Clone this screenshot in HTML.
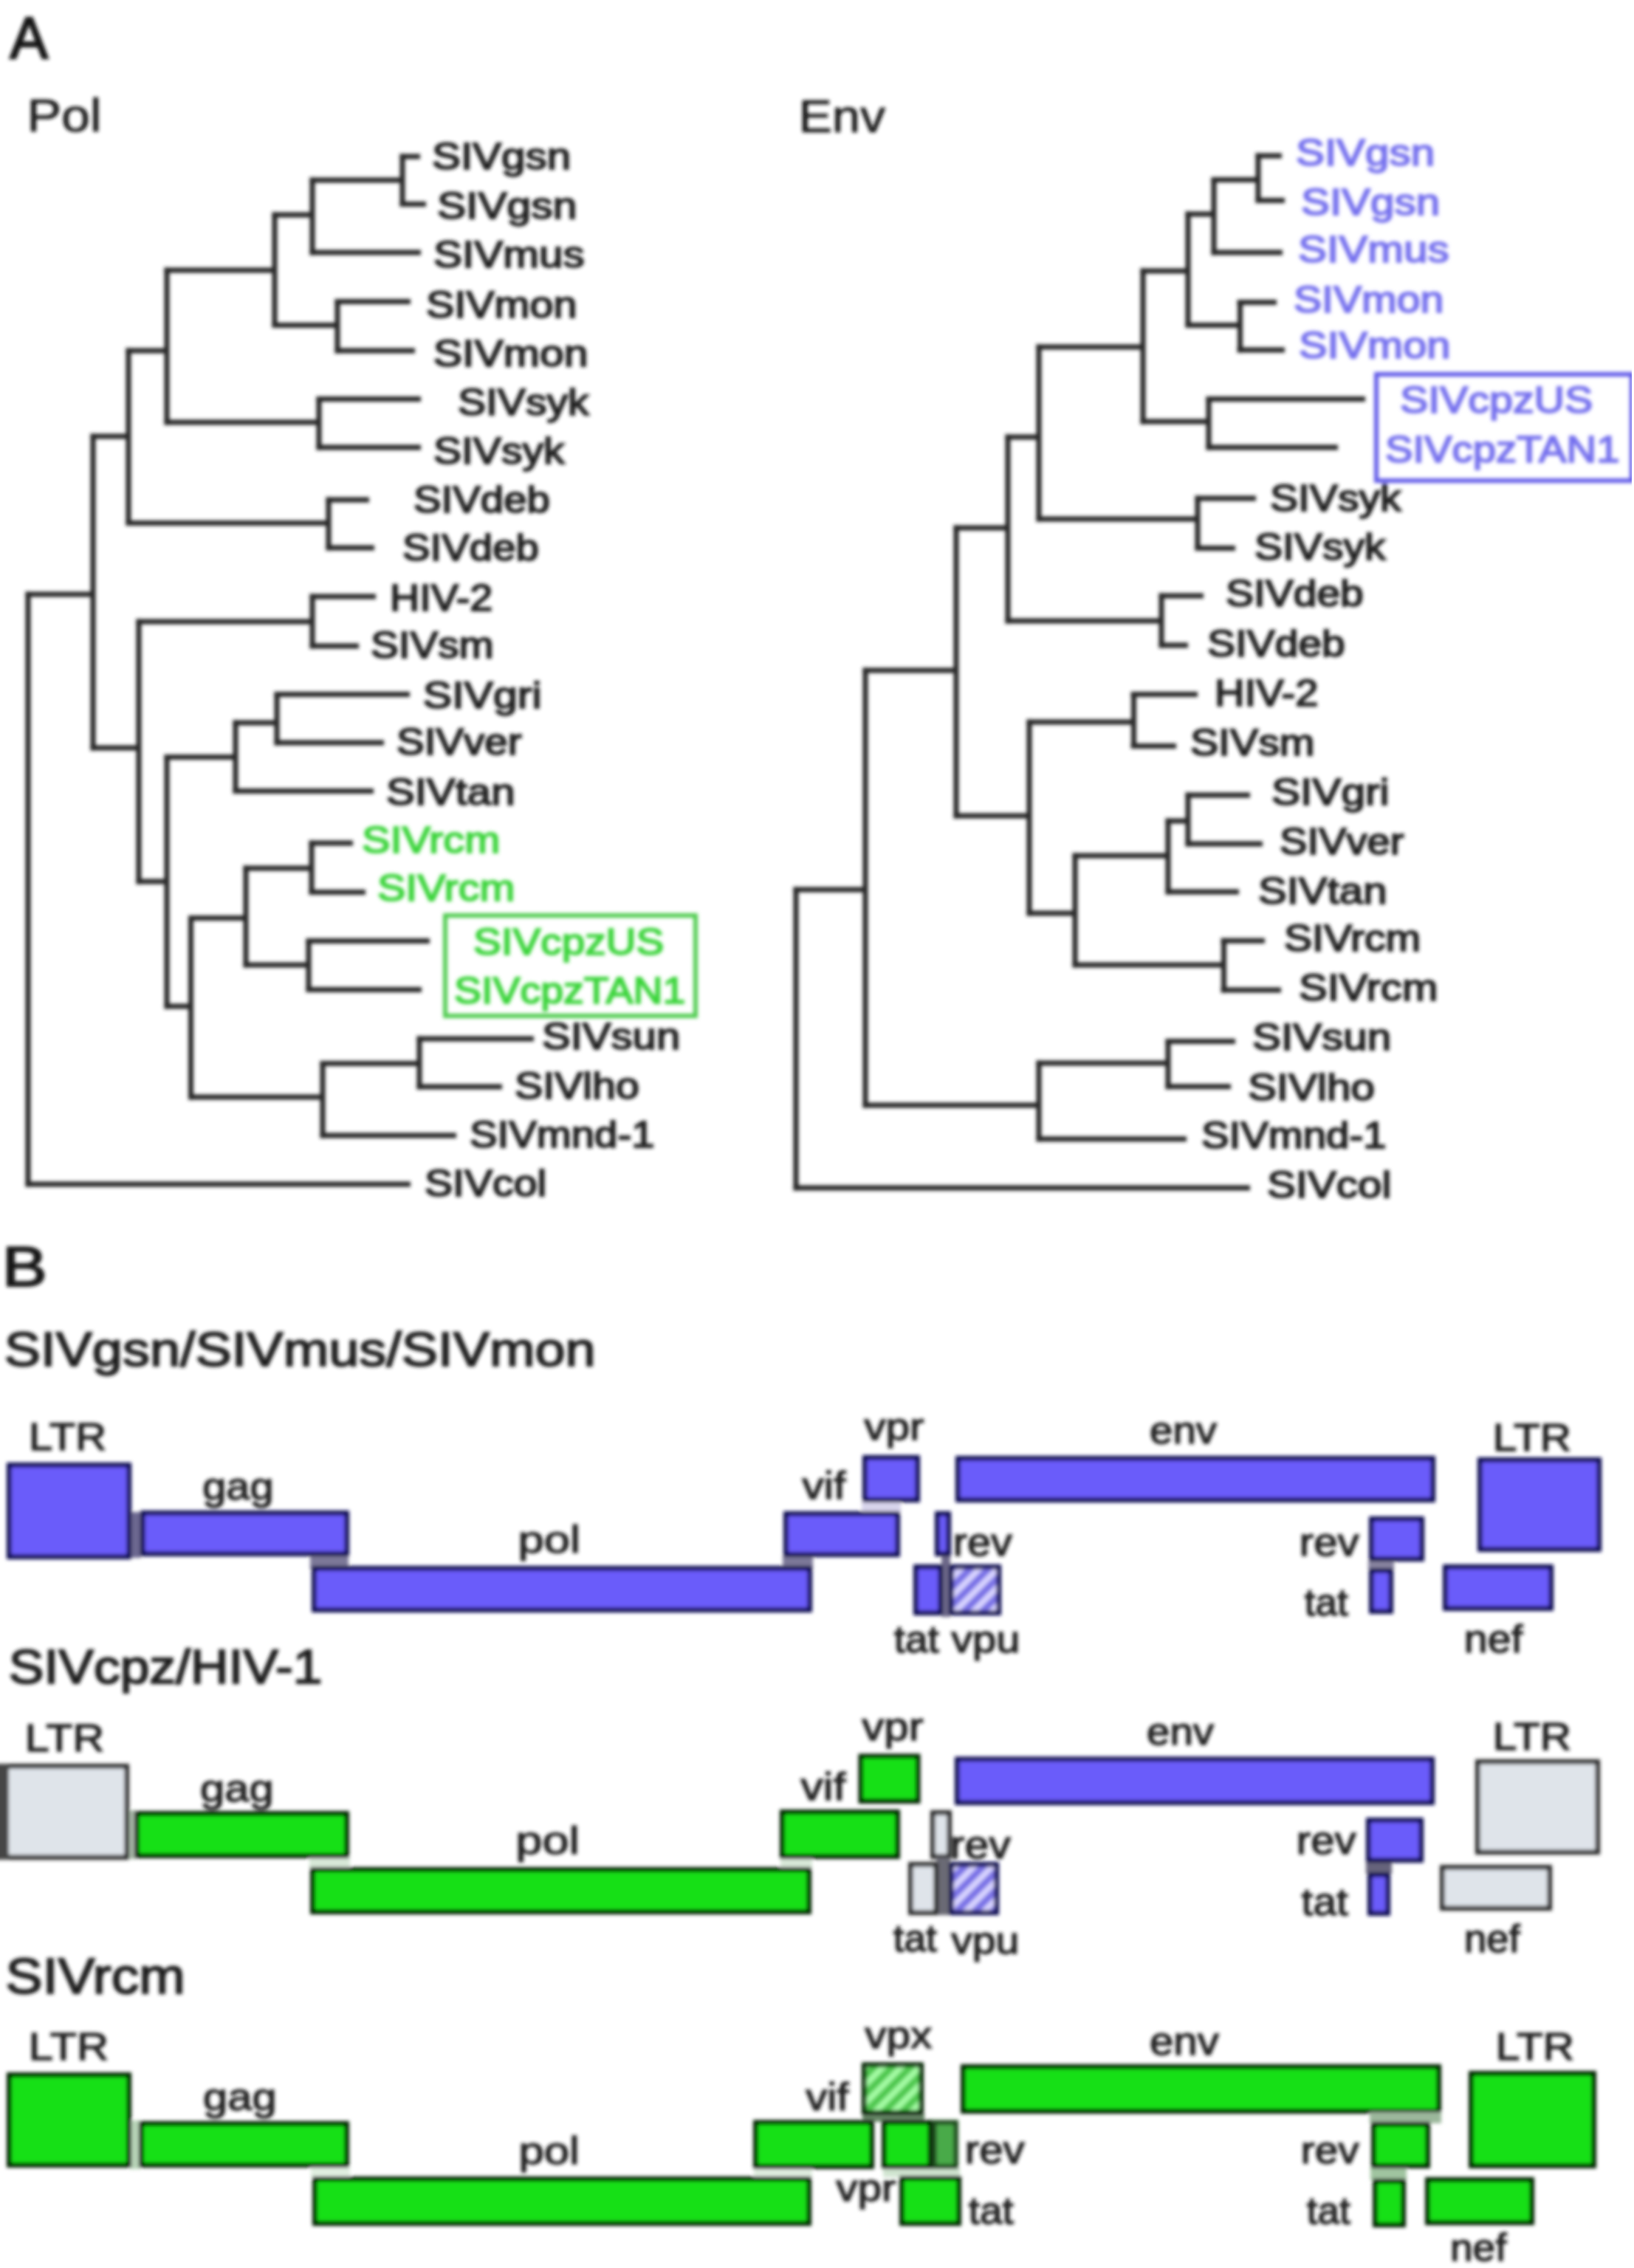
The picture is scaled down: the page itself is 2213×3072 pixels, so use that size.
<!DOCTYPE html>
<html><head><meta charset="utf-8"><style>html,body{margin:0;padding:0;background:#fff;width:2213px;height:3072px;overflow:hidden}</style></head>
<body><svg width="2213" height="3072" viewBox="0 0 2213 3072" style="display:block">
<rect width="2213" height="3072" fill="#fff"/>
<g font-family="Liberation Sans, sans-serif" filter="url(#bl)">
<filter id="bl" x="0" y="0" width="1" height="1"><feGaussianBlur stdDeviation="2.6"/></filter>
<text transform="translate(13.6,79.0) scale(0.9694,1)" font-size="79.7" font-weight="normal" fill="#151515" stroke="#151515" stroke-width="2.58">A</text>
<text transform="translate(36.4,178.0) scale(1.0977,1)" font-size="63.8" font-weight="normal" fill="#141414" stroke="#141414" stroke-width="0.73">Pol</text>
<text transform="translate(1081.5,179.0) scale(1.0710,1)" font-size="63.8" font-weight="normal" fill="#141414" stroke="#141414" stroke-width="0.75">Env</text>
<line x1="541.5" y1="212" x2="569" y2="212" stroke="#262626" stroke-width="7"/>
<text transform="translate(584.9,229.4) scale(1.1857,1)" font-size="49.3" font-weight="normal" fill="#1c1c1c" stroke="#1c1c1c" stroke-width="1.86">SIVgsn</text>
<line x1="541.5" y1="276.5" x2="577" y2="276.5" stroke="#262626" stroke-width="7"/>
<text transform="translate(591.9,295.5) scale(1.1922,1)" font-size="49.3" font-weight="normal" fill="#1c1c1c" stroke="#1c1c1c" stroke-width="1.85">SIVgsn</text>
<line x1="419.5" y1="342" x2="570" y2="342" stroke="#262626" stroke-width="7"/>
<text transform="translate(586.9,361.5) scale(1.1868,1)" font-size="49.3" font-weight="normal" fill="#1c1c1c" stroke="#1c1c1c" stroke-width="1.85">SIVmus</text>
<line x1="453.5" y1="408.5" x2="556" y2="408.5" stroke="#262626" stroke-width="7"/>
<text transform="translate(576.9,429.5) scale(1.1664,1)" font-size="49.3" font-weight="normal" fill="#1c1c1c" stroke="#1c1c1c" stroke-width="1.89">SIVmon</text>
<line x1="453.5" y1="475" x2="562" y2="475" stroke="#262626" stroke-width="7"/>
<text transform="translate(586.8,496.0) scale(1.1959,1)" font-size="49.3" font-weight="normal" fill="#1c1c1c" stroke="#1c1c1c" stroke-width="1.84">SIVmon</text>
<line x1="428.5" y1="540.5" x2="570" y2="540.5" stroke="#262626" stroke-width="7"/>
<text transform="translate(619.9,561.5) scale(1.1587,1)" font-size="49.3" font-weight="normal" fill="#1c1c1c" stroke="#1c1c1c" stroke-width="1.90">SIVsyk</text>
<line x1="428.5" y1="606" x2="570" y2="606" stroke="#262626" stroke-width="7"/>
<text transform="translate(586.9,628.0) scale(1.1587,1)" font-size="49.3" font-weight="normal" fill="#1c1c1c" stroke="#1c1c1c" stroke-width="1.90">SIVsyk</text>
<line x1="441.5" y1="677" x2="500" y2="677" stroke="#262626" stroke-width="7"/>
<text transform="translate(560.0,694.0) scale(1.1433,1)" font-size="49.3" font-weight="normal" fill="#1c1c1c" stroke="#1c1c1c" stroke-width="1.92">SIVdeb</text>
<line x1="441.5" y1="742" x2="507" y2="742" stroke="#262626" stroke-width="7"/>
<text transform="translate(545.0,759.0) scale(1.1433,1)" font-size="49.3" font-weight="normal" fill="#1c1c1c" stroke="#1c1c1c" stroke-width="1.92">SIVdeb</text>
<line x1="419.5" y1="808" x2="509" y2="808" stroke="#262626" stroke-width="7"/>
<text transform="translate(528.0,826.5) scale(1.1303,1)" font-size="49.3" font-weight="normal" fill="#1c1c1c" stroke="#1c1c1c" stroke-width="1.95">HIV-2</text>
<line x1="419.5" y1="875" x2="486" y2="875" stroke="#262626" stroke-width="7"/>
<text transform="translate(502.0,891.0) scale(1.1474,1)" font-size="49.3" font-weight="normal" fill="#1c1c1c" stroke="#1c1c1c" stroke-width="1.92">SIVsm</text>
<line x1="371.5" y1="940.5" x2="555" y2="940.5" stroke="#262626" stroke-width="7"/>
<text transform="translate(572.8,959.0) scale(1.1974,1)" font-size="49.3" font-weight="normal" fill="#1c1c1c" stroke="#1c1c1c" stroke-width="1.84">SIVgri</text>
<line x1="371.5" y1="1006" x2="520" y2="1006" stroke="#262626" stroke-width="7"/>
<text transform="translate(537.0,1022.0) scale(1.1459,1)" font-size="49.3" font-weight="normal" fill="#1c1c1c" stroke="#1c1c1c" stroke-width="1.92">SIVver</text>
<line x1="315.5" y1="1071.5" x2="506" y2="1071.5" stroke="#262626" stroke-width="7"/>
<text transform="translate(522.9,1090.0) scale(1.1797,1)" font-size="49.3" font-weight="normal" fill="#1c1c1c" stroke="#1c1c1c" stroke-width="1.86">SIVtan</text>
<line x1="418.5" y1="1142" x2="478" y2="1142" stroke="#262626" stroke-width="7"/>
<text transform="translate(489.9,1155.0) scale(1.1736,1)" font-size="49.3" font-weight="normal" fill="#3ad43a" stroke="#3ad43a" stroke-width="1.87">SIVrcm</text>
<line x1="418.5" y1="1208.5" x2="495" y2="1208.5" stroke="#262626" stroke-width="7"/>
<text transform="translate(510.9,1220.0) scale(1.1671,1)" font-size="49.3" font-weight="normal" fill="#3ad43a" stroke="#3ad43a" stroke-width="1.89">SIVrcm</text>
<line x1="414.5" y1="1274.5" x2="582" y2="1274.5" stroke="#262626" stroke-width="7"/>
<text transform="translate(641.0,1293.0) scale(1.1499,1)" font-size="49.3" font-weight="normal" fill="#3ad43a" stroke="#3ad43a" stroke-width="1.91">SIVcpzUS</text>
<line x1="414.5" y1="1340.5" x2="571" y2="1340.5" stroke="#262626" stroke-width="7"/>
<text transform="translate(615.0,1359.0) scale(1.1252,1)" font-size="49.3" font-weight="normal" fill="#3ad43a" stroke="#3ad43a" stroke-width="1.96">SIVcpzTAN1</text>
<line x1="564.5" y1="1407" x2="723" y2="1407" stroke="#262626" stroke-width="7"/>
<text transform="translate(733.9,1420.5) scale(1.1792,1)" font-size="49.3" font-weight="normal" fill="#1c1c1c" stroke="#1c1c1c" stroke-width="1.87">SIVsun</text>
<line x1="564.5" y1="1472" x2="680" y2="1472" stroke="#262626" stroke-width="7"/>
<text transform="translate(696.9,1488.0) scale(1.1637,1)" font-size="49.3" font-weight="normal" fill="#1c1c1c" stroke="#1c1c1c" stroke-width="1.89">SIVlho</text>
<line x1="433.5" y1="1538" x2="618" y2="1538" stroke="#262626" stroke-width="7"/>
<text transform="translate(636.0,1554.0) scale(1.1430,1)" font-size="49.3" font-weight="normal" fill="#1c1c1c" stroke="#1c1c1c" stroke-width="1.92">SIVmnd-1</text>
<line x1="34.5" y1="1604" x2="556" y2="1604" stroke="#262626" stroke-width="7"/>
<text transform="translate(574.9,1620.0) scale(1.1607,1)" font-size="49.3" font-weight="normal" fill="#1c1c1c" stroke="#1c1c1c" stroke-width="1.90">SIVcol</text>
<line x1="545" y1="208.5" x2="545" y2="280.0" stroke="#262626" stroke-width="7"/>
<line x1="419.5" y1="244" x2="545" y2="244" stroke="#262626" stroke-width="7"/>
<line x1="423" y1="240.5" x2="423" y2="345.5" stroke="#262626" stroke-width="7"/>
<line x1="368.5" y1="291" x2="423" y2="291" stroke="#262626" stroke-width="7"/>
<line x1="457" y1="405.0" x2="457" y2="478.5" stroke="#262626" stroke-width="7"/>
<line x1="368.5" y1="440.5" x2="457" y2="440.5" stroke="#262626" stroke-width="7"/>
<line x1="372" y1="287.5" x2="372" y2="444.0" stroke="#262626" stroke-width="7"/>
<line x1="222.5" y1="366" x2="372" y2="366" stroke="#262626" stroke-width="7"/>
<line x1="432" y1="537.0" x2="432" y2="609.5" stroke="#262626" stroke-width="7"/>
<line x1="222.5" y1="572" x2="432" y2="572" stroke="#262626" stroke-width="7"/>
<line x1="226" y1="362.5" x2="226" y2="575.5" stroke="#262626" stroke-width="7"/>
<line x1="170.5" y1="475" x2="226" y2="475" stroke="#262626" stroke-width="7"/>
<line x1="445" y1="673.5" x2="445" y2="745.5" stroke="#262626" stroke-width="7"/>
<line x1="170.5" y1="708.5" x2="445" y2="708.5" stroke="#262626" stroke-width="7"/>
<line x1="174" y1="471.5" x2="174" y2="712.0" stroke="#262626" stroke-width="7"/>
<line x1="122.5" y1="591" x2="174" y2="591" stroke="#262626" stroke-width="7"/>
<line x1="423" y1="804.5" x2="423" y2="878.5" stroke="#262626" stroke-width="7"/>
<line x1="184.5" y1="842" x2="423" y2="842" stroke="#262626" stroke-width="7"/>
<line x1="375" y1="937.0" x2="375" y2="1009.5" stroke="#262626" stroke-width="7"/>
<line x1="315.5" y1="979" x2="375" y2="979" stroke="#262626" stroke-width="7"/>
<line x1="319" y1="975.5" x2="319" y2="1075.0" stroke="#262626" stroke-width="7"/>
<line x1="222.5" y1="1025.5" x2="319" y2="1025.5" stroke="#262626" stroke-width="7"/>
<line x1="422" y1="1138.5" x2="422" y2="1212.0" stroke="#262626" stroke-width="7"/>
<line x1="329.5" y1="1176" x2="422" y2="1176" stroke="#262626" stroke-width="7"/>
<line x1="418" y1="1271.0" x2="418" y2="1344.0" stroke="#262626" stroke-width="7"/>
<line x1="329.5" y1="1307" x2="418" y2="1307" stroke="#262626" stroke-width="7"/>
<line x1="333" y1="1172.5" x2="333" y2="1310.5" stroke="#262626" stroke-width="7"/>
<line x1="255.0" y1="1243.5" x2="333" y2="1243.5" stroke="#262626" stroke-width="7"/>
<line x1="568" y1="1403.5" x2="568" y2="1475.5" stroke="#262626" stroke-width="7"/>
<line x1="433.5" y1="1440.5" x2="568" y2="1440.5" stroke="#262626" stroke-width="7"/>
<line x1="437" y1="1437.0" x2="437" y2="1541.5" stroke="#262626" stroke-width="7"/>
<line x1="255.0" y1="1486" x2="437" y2="1486" stroke="#262626" stroke-width="7"/>
<line x1="258.5" y1="1240.0" x2="258.5" y2="1489.5" stroke="#262626" stroke-width="7"/>
<line x1="222.5" y1="1363" x2="258.5" y2="1363" stroke="#262626" stroke-width="7"/>
<line x1="226" y1="1022.0" x2="226" y2="1366.5" stroke="#262626" stroke-width="7"/>
<line x1="184.5" y1="1194" x2="226" y2="1194" stroke="#262626" stroke-width="7"/>
<line x1="188" y1="838.5" x2="188" y2="1197.5" stroke="#262626" stroke-width="7"/>
<line x1="122.5" y1="1013" x2="188" y2="1013" stroke="#262626" stroke-width="7"/>
<line x1="126" y1="587.5" x2="126" y2="1016.5" stroke="#262626" stroke-width="7"/>
<line x1="34.5" y1="805" x2="126" y2="805" stroke="#262626" stroke-width="7"/>
<line x1="38" y1="801.5" x2="38" y2="1607.5" stroke="#262626" stroke-width="7"/>
<rect x="603.0" y="1240.0" width="339" height="136" fill="none" stroke="#50cc50" stroke-width="6"/>
<line x1="1700.5" y1="211" x2="1736" y2="211" stroke="#262626" stroke-width="7"/>
<text transform="translate(1754.9,224.0) scale(1.1857,1)" font-size="49.3" font-weight="normal" fill="#7570ee" stroke="#7570ee" stroke-width="1.86">SIVgsn</text>
<line x1="1700.5" y1="271.5" x2="1740" y2="271.5" stroke="#262626" stroke-width="7"/>
<text transform="translate(1761.9,291.0) scale(1.1857,1)" font-size="49.3" font-weight="normal" fill="#7570ee" stroke="#7570ee" stroke-width="1.86">SIVgsn</text>
<line x1="1640.5" y1="342" x2="1737" y2="342" stroke="#262626" stroke-width="7"/>
<text transform="translate(1757.9,355.0) scale(1.1868,1)" font-size="49.3" font-weight="normal" fill="#7570ee" stroke="#7570ee" stroke-width="1.85">SIVmus</text>
<line x1="1675.5" y1="409.5" x2="1729" y2="409.5" stroke="#262626" stroke-width="7"/>
<text transform="translate(1751.9,423.0) scale(1.1605,1)" font-size="49.3" font-weight="normal" fill="#7570ee" stroke="#7570ee" stroke-width="1.90">SIVmon</text>
<line x1="1675.5" y1="474" x2="1740" y2="474" stroke="#262626" stroke-width="7"/>
<text transform="translate(1758.9,485.0) scale(1.1723,1)" font-size="49.3" font-weight="normal" fill="#7570ee" stroke="#7570ee" stroke-width="1.88">SIVmon</text>
<line x1="1633.5" y1="540.5" x2="1849" y2="540.5" stroke="#262626" stroke-width="7"/>
<text transform="translate(1895.9,558.5) scale(1.1636,1)" font-size="49.3" font-weight="normal" fill="#7570ee" stroke="#7570ee" stroke-width="1.89">SIVcpzUS</text>
<line x1="1633.5" y1="606" x2="1812" y2="606" stroke="#262626" stroke-width="7"/>
<text transform="translate(1876.0,626.0) scale(1.1398,1)" font-size="49.3" font-weight="normal" fill="#7570ee" stroke="#7570ee" stroke-width="1.93">SIVcpzTAN1</text>
<line x1="1618.5" y1="675" x2="1701" y2="675" stroke="#262626" stroke-width="7"/>
<text transform="translate(1719.9,692.0) scale(1.1587,1)" font-size="49.3" font-weight="normal" fill="#1c1c1c" stroke="#1c1c1c" stroke-width="1.90">SIVsyk</text>
<line x1="1618.5" y1="742.5" x2="1673" y2="742.5" stroke="#262626" stroke-width="7"/>
<text transform="translate(1698.9,757.5) scale(1.1587,1)" font-size="49.3" font-weight="normal" fill="#1c1c1c" stroke="#1c1c1c" stroke-width="1.90">SIVsyk</text>
<line x1="1569.5" y1="807" x2="1630" y2="807" stroke="#262626" stroke-width="7"/>
<text transform="translate(1659.9,821.0) scale(1.1560,1)" font-size="49.3" font-weight="normal" fill="#1c1c1c" stroke="#1c1c1c" stroke-width="1.90">SIVdeb</text>
<line x1="1569.5" y1="874" x2="1609" y2="874" stroke="#262626" stroke-width="7"/>
<text transform="translate(1634.9,888.8) scale(1.1560,1)" font-size="49.3" font-weight="normal" fill="#1c1c1c" stroke="#1c1c1c" stroke-width="1.90">SIVdeb</text>
<line x1="1531.5" y1="940.5" x2="1622" y2="940.5" stroke="#262626" stroke-width="7"/>
<text transform="translate(1645.0,956.0) scale(1.1389,1)" font-size="49.3" font-weight="normal" fill="#1c1c1c" stroke="#1c1c1c" stroke-width="1.93">HIV-2</text>
<line x1="1531.5" y1="1010.5" x2="1593" y2="1010.5" stroke="#262626" stroke-width="7"/>
<text transform="translate(1611.9,1022.5) scale(1.1617,1)" font-size="49.3" font-weight="normal" fill="#1c1c1c" stroke="#1c1c1c" stroke-width="1.89">SIVsm</text>
<line x1="1605.5" y1="1077" x2="1693" y2="1077" stroke="#262626" stroke-width="7"/>
<text transform="translate(1721.9,1089.6) scale(1.1897,1)" font-size="49.3" font-weight="normal" fill="#1c1c1c" stroke="#1c1c1c" stroke-width="1.85">SIVgri</text>
<line x1="1605.5" y1="1143" x2="1710" y2="1143" stroke="#262626" stroke-width="7"/>
<text transform="translate(1733.0,1157.0) scale(1.1390,1)" font-size="49.3" font-weight="normal" fill="#1c1c1c" stroke="#1c1c1c" stroke-width="1.93">SIVver</text>
<line x1="1578.5" y1="1208" x2="1678" y2="1208" stroke="#262626" stroke-width="7"/>
<text transform="translate(1703.9,1224.0) scale(1.1797,1)" font-size="49.3" font-weight="normal" fill="#1c1c1c" stroke="#1c1c1c" stroke-width="1.86">SIVtan</text>
<line x1="1653.5" y1="1274.3" x2="1713" y2="1274.3" stroke="#262626" stroke-width="7"/>
<text transform="translate(1738.9,1288.0) scale(1.1606,1)" font-size="49.3" font-weight="normal" fill="#1c1c1c" stroke="#1c1c1c" stroke-width="1.90">SIVrcm</text>
<line x1="1653.5" y1="1341" x2="1735" y2="1341" stroke="#262626" stroke-width="7"/>
<text transform="translate(1758.9,1355.0) scale(1.1800,1)" font-size="49.3" font-weight="normal" fill="#1c1c1c" stroke="#1c1c1c" stroke-width="1.86">SIVrcm</text>
<line x1="1578.5" y1="1410.6" x2="1673" y2="1410.6" stroke="#262626" stroke-width="7"/>
<text transform="translate(1695.9,1422.0) scale(1.1857,1)" font-size="49.3" font-weight="normal" fill="#1c1c1c" stroke="#1c1c1c" stroke-width="1.86">SIVsun</text>
<line x1="1578.5" y1="1471.8" x2="1667" y2="1471.8" stroke="#262626" stroke-width="7"/>
<text transform="translate(1689.9,1489.5) scale(1.1850,1)" font-size="49.3" font-weight="normal" fill="#1c1c1c" stroke="#1c1c1c" stroke-width="1.86">SIVlho</text>
<line x1="1403.5" y1="1542.8" x2="1607" y2="1542.8" stroke="#262626" stroke-width="7"/>
<text transform="translate(1627.0,1554.5) scale(1.1430,1)" font-size="49.3" font-weight="normal" fill="#1c1c1c" stroke="#1c1c1c" stroke-width="1.92">SIVmnd-1</text>
<line x1="1074.5" y1="1608.9" x2="1693" y2="1608.9" stroke="#262626" stroke-width="7"/>
<text transform="translate(1715.9,1621.5) scale(1.1826,1)" font-size="49.3" font-weight="normal" fill="#1c1c1c" stroke="#1c1c1c" stroke-width="1.86">SIVcol</text>
<line x1="1704" y1="207.5" x2="1704" y2="275.0" stroke="#262626" stroke-width="7"/>
<line x1="1640.5" y1="243.5" x2="1704" y2="243.5" stroke="#262626" stroke-width="7"/>
<line x1="1644" y1="240.0" x2="1644" y2="345.5" stroke="#262626" stroke-width="7"/>
<line x1="1605.5" y1="290" x2="1644" y2="290" stroke="#262626" stroke-width="7"/>
<line x1="1679.5" y1="406.0" x2="1679.5" y2="477.5" stroke="#262626" stroke-width="7"/>
<line x1="1605.5" y1="440.5" x2="1679.5" y2="440.5" stroke="#262626" stroke-width="7"/>
<line x1="1609" y1="286.5" x2="1609" y2="444.0" stroke="#262626" stroke-width="7"/>
<line x1="1544.5" y1="367" x2="1609" y2="367" stroke="#262626" stroke-width="7"/>
<line x1="1637" y1="537.0" x2="1637" y2="609.5" stroke="#262626" stroke-width="7"/>
<line x1="1544.5" y1="571" x2="1637" y2="571" stroke="#262626" stroke-width="7"/>
<line x1="1548" y1="363.5" x2="1548" y2="574.5" stroke="#262626" stroke-width="7"/>
<line x1="1403.5" y1="470" x2="1548" y2="470" stroke="#262626" stroke-width="7"/>
<line x1="1622" y1="671.5" x2="1622" y2="746.0" stroke="#262626" stroke-width="7"/>
<line x1="1403.5" y1="703" x2="1622" y2="703" stroke="#262626" stroke-width="7"/>
<line x1="1407" y1="466.5" x2="1407" y2="706.5" stroke="#262626" stroke-width="7"/>
<line x1="1361.5" y1="592" x2="1407" y2="592" stroke="#262626" stroke-width="7"/>
<line x1="1573" y1="803.5" x2="1573" y2="877.5" stroke="#262626" stroke-width="7"/>
<line x1="1361.5" y1="841" x2="1573" y2="841" stroke="#262626" stroke-width="7"/>
<line x1="1365" y1="588.5" x2="1365" y2="844.5" stroke="#262626" stroke-width="7"/>
<line x1="1291.5" y1="715" x2="1365" y2="715" stroke="#262626" stroke-width="7"/>
<line x1="1535.5" y1="937.0" x2="1535.5" y2="1014.0" stroke="#262626" stroke-width="7"/>
<line x1="1390.5" y1="978" x2="1535.5" y2="978" stroke="#262626" stroke-width="7"/>
<line x1="1609" y1="1073.5" x2="1609" y2="1146.5" stroke="#262626" stroke-width="7"/>
<line x1="1578.5" y1="1112" x2="1609" y2="1112" stroke="#262626" stroke-width="7"/>
<line x1="1582" y1="1108.5" x2="1582" y2="1211.5" stroke="#262626" stroke-width="7"/>
<line x1="1452.5" y1="1159" x2="1582" y2="1159" stroke="#262626" stroke-width="7"/>
<line x1="1657.5" y1="1270.8" x2="1657.5" y2="1344.5" stroke="#262626" stroke-width="7"/>
<line x1="1452.5" y1="1307" x2="1657.5" y2="1307" stroke="#262626" stroke-width="7"/>
<line x1="1456" y1="1155.5" x2="1456" y2="1310.5" stroke="#262626" stroke-width="7"/>
<line x1="1390.5" y1="1237" x2="1456" y2="1237" stroke="#262626" stroke-width="7"/>
<line x1="1394" y1="974.5" x2="1394" y2="1240.5" stroke="#262626" stroke-width="7"/>
<line x1="1291.5" y1="1105" x2="1394" y2="1105" stroke="#262626" stroke-width="7"/>
<line x1="1295" y1="711.5" x2="1295" y2="1108.5" stroke="#262626" stroke-width="7"/>
<line x1="1168.5" y1="908" x2="1295" y2="908" stroke="#262626" stroke-width="7"/>
<line x1="1582" y1="1407.1" x2="1582" y2="1475.3" stroke="#262626" stroke-width="7"/>
<line x1="1403.5" y1="1440" x2="1582" y2="1440" stroke="#262626" stroke-width="7"/>
<line x1="1407" y1="1436.5" x2="1407" y2="1546.3" stroke="#262626" stroke-width="7"/>
<line x1="1168.5" y1="1497" x2="1407" y2="1497" stroke="#262626" stroke-width="7"/>
<line x1="1172" y1="904.5" x2="1172" y2="1500.5" stroke="#262626" stroke-width="7"/>
<line x1="1074.5" y1="1205" x2="1172" y2="1205" stroke="#262626" stroke-width="7"/>
<line x1="1078" y1="1201.5" x2="1078" y2="1612.4" stroke="#262626" stroke-width="7"/>
<rect x="1864.0" y="507.0" width="346" height="144" fill="none" stroke="#615ae8" stroke-width="6"/>
<text transform="translate(2.7,1742.0) scale(1.2153,1)" font-size="75.4" font-weight="normal" fill="#151515" stroke="#151515" stroke-width="2.06">B</text>
<text transform="translate(5.7,1850.0) scale(1.1337,1)" font-size="65.2" font-weight="normal" fill="#1c1c1c" stroke="#1c1c1c" stroke-width="1.94">SIVgsn/SIVmus/SIVmon</text>
<text transform="translate(11.8,2280.0) scale(1.0956,1)" font-size="65.2" font-weight="normal" fill="#1c1c1c" stroke="#1c1c1c" stroke-width="2.01">SIVcpz/HIV-1</text>
<text transform="translate(7.6,2699.5) scale(1.0906,1)" font-size="68.8" font-weight="normal" fill="#1c1c1c" stroke="#1c1c1c" stroke-width="2.02">SIVrcm</text>
<defs>
<pattern id="hp" patternUnits="userSpaceOnUse" x="4" width="17.5" height="17.5" patternTransform="rotate(45)">
<rect width="17.5" height="17.5" fill="#7a72e6"/><rect width="8" height="17.5" fill="#d8d4ff"/></pattern>
<pattern id="hg" patternUnits="userSpaceOnUse" x="4" width="17.5" height="17.5" patternTransform="rotate(45)">
<rect width="17.5" height="17.5" fill="#50c850"/><rect width="8" height="17.5" fill="#a4fca4"/></pattern>
</defs>
<rect x="176" y="2048" width="15" height="62" fill="#6c6890"/>
<rect x="420" y="2106" width="52" height="20" fill="#7c7898"/>
<rect x="1060" y="2107" width="41" height="19" fill="#7c7898"/>
<rect x="1167" y="2033" width="53" height="16" fill="#d8d4ec"/>
<rect x="1275" y="2106" width="12" height="84" fill="#6c6888"/>
<rect x="1853" y="2114" width="35" height="12" fill="#8884a0"/>
<rect x="12.25" y="1984.25" width="162.5" height="124.5" fill="#6b5cfa" stroke="#0e0852" stroke-width="6.5"/>
<text transform="translate(38.9,1964.0) scale(1.1114,1)" font-size="52.2" font-weight="normal" fill="#1c1c1c" stroke="#1c1c1c" stroke-width="1.35">LTR</text>
<rect x="193.25" y="2049.25" width="276.5" height="55.5" fill="#6b5cfa" stroke="#0e0852" stroke-width="6.5"/>
<text transform="translate(274.2,2031.0) scale(1.1058,1)" font-size="52.2" font-weight="normal" fill="#1c1c1c" stroke="#1c1c1c" stroke-width="1.36">gag</text>
<rect x="425.25" y="2124.25" width="671.5" height="56.5" fill="#6b5cfa" stroke="#0e0852" stroke-width="6.5"/>
<text transform="translate(701.4,2103.0) scale(1.2139,1)" font-size="52.2" font-weight="normal" fill="#1c1c1c" stroke="#1c1c1c" stroke-width="1.24">pol</text>
<rect x="1064.25" y="2050.25" width="151.5" height="55.5" fill="#6b5cfa" stroke="#0e0852" stroke-width="6.5"/>
<text transform="translate(1086.2,2030.0) scale(1.1365,1)" font-size="52.2" font-weight="normal" fill="#1c1c1c" stroke="#1c1c1c" stroke-width="1.32">vif</text>
<rect x="1171.25" y="1974.25" width="71.5" height="57.5" fill="#6b5cfa" stroke="#0e0852" stroke-width="6.5"/>
<text transform="translate(1170.2,1950.0) scale(1.1233,1)" font-size="52.2" font-weight="normal" fill="#1c1c1c" stroke="#1c1c1c" stroke-width="1.34">vpr</text>
<rect x="1297.25" y="1975.25" width="643.5" height="56.5" fill="#6b5cfa" stroke="#0e0852" stroke-width="6.5"/>
<text transform="translate(1557.0,1955.0) scale(1.0812,1)" font-size="52.2" font-weight="normal" fill="#1c1c1c" stroke="#1c1c1c" stroke-width="1.39">env</text>
<rect x="1269.25" y="2050.25" width="15.5" height="54.5" fill="#6b5cfa" stroke="#0e0852" stroke-width="6.5"/>
<text transform="translate(1290.8,2107.0) scale(1.1035,1)" font-size="52.2" font-weight="normal" fill="#1c1c1c" stroke="#1c1c1c" stroke-width="1.36">rev</text>
<rect x="1240.25" y="2122.25" width="33.5" height="62.5" fill="#6b5cfa" stroke="#0e0852" stroke-width="6.5"/>
<rect x="1288.25" y="2122.25" width="64.5" height="62.5" fill="url(#hp)" stroke="#0e0852" stroke-width="6.5"/>
<text transform="translate(1210.7,2238.0) scale(1.0550,1)" font-size="52.2" font-weight="normal" fill="#1c1c1c" stroke="#1c1c1c" stroke-width="1.42">tat</text>
<text transform="translate(1288.2,2238.0) scale(1.1077,1)" font-size="52.2" font-weight="normal" fill="#1c1c1c" stroke="#1c1c1c" stroke-width="1.35">vpu</text>
<rect x="1857.25" y="2057.25" width="68.5" height="54.5" fill="#6b5cfa" stroke="#0e0852" stroke-width="6.5"/>
<text transform="translate(1759.7,2107.0) scale(1.1181,1)" font-size="52.2" font-weight="normal" fill="#1c1c1c" stroke="#1c1c1c" stroke-width="1.34">rev</text>
<rect x="1857.25" y="2127.25" width="26.5" height="55.5" fill="#6b5cfa" stroke="#0e0852" stroke-width="6.5"/>
<text transform="translate(1766.7,2188.0) scale(1.0199,1)" font-size="52.2" font-weight="normal" fill="#1c1c1c" stroke="#1c1c1c" stroke-width="1.47">tat</text>
<rect x="2004.25" y="1977.25" width="161.5" height="121.5" fill="#6b5cfa" stroke="#0e0852" stroke-width="6.5"/>
<text transform="translate(2021.8,1965.0) scale(1.1228,1)" font-size="52.2" font-weight="normal" fill="#1c1c1c" stroke="#1c1c1c" stroke-width="1.34">LTR</text>
<rect x="1957.25" y="2122.25" width="143.5" height="56.5" fill="#6b5cfa" stroke="#0e0852" stroke-width="6.5"/>
<text transform="translate(1982.8,2238.0) scale(1.0994,1)" font-size="52.2" font-weight="normal" fill="#1c1c1c" stroke="#1c1c1c" stroke-width="1.36">nef</text>
<rect x="174" y="2452" width="11" height="66" fill="#a8b8a8"/>
<rect x="419" y="2515" width="55" height="16" fill="#d8e8d8"/>
<rect x="1057" y="2515" width="43" height="16" fill="#d8e8d8"/>
<rect x="1850" y="2521" width="35" height="17" fill="#66647c"/>
<rect x="-0.75" y="2392.25" width="172.5" height="123.5" fill="#dfe4ea" stroke="#2c2c2c" stroke-width="6.5"/>
<rect x="-12.0" y="2389.0" width="24" height="130" fill="#444" stroke="#444" stroke-width="0"/>
<text transform="translate(33.8,2372.0) scale(1.1341,1)" font-size="52.2" font-weight="normal" fill="#1c1c1c" stroke="#1c1c1c" stroke-width="1.32">LTR</text>
<rect x="185.25" y="2456.25" width="284.5" height="57.5" fill="#12e012" stroke="#012401" stroke-width="6.5"/>
<text transform="translate(271.1,2440.0) scale(1.1426,1)" font-size="52.2" font-weight="normal" fill="#1c1c1c" stroke="#1c1c1c" stroke-width="1.31">gag</text>
<rect x="423.25" y="2532.25" width="672.5" height="57.5" fill="#12e012" stroke="#012401" stroke-width="6.5"/>
<text transform="translate(698.3,2511.0) scale(1.2458,1)" font-size="52.2" font-weight="normal" fill="#1c1c1c" stroke="#1c1c1c" stroke-width="1.20">pol</text>
<rect x="1059.25" y="2454.25" width="156.5" height="60.5" fill="#12e012" stroke="#012401" stroke-width="6.5"/>
<text transform="translate(1084.2,2438.0) scale(1.1750,1)" font-size="52.2" font-weight="normal" fill="#1c1c1c" stroke="#1c1c1c" stroke-width="1.28">vif</text>
<rect x="1165.75" y="2378.75" width="77.5" height="61.0" fill="#12e012" stroke="#012401" stroke-width="6.5"/>
<text transform="translate(1167.2,2357.0) scale(1.1514,1)" font-size="52.2" font-weight="normal" fill="#1c1c1c" stroke="#1c1c1c" stroke-width="1.30">vpr</text>
<rect x="1296.25" y="2382.75" width="643.5" height="59.0" fill="#6b5cfa" stroke="#0e0852" stroke-width="6.5"/>
<text transform="translate(1553.0,2363.0) scale(1.0812,1)" font-size="52.2" font-weight="normal" fill="#1c1c1c" stroke="#1c1c1c" stroke-width="1.39">env</text>
<rect x="1263.25" y="2455.25" width="22.5" height="59.5" fill="#dfe4ea" stroke="#2c2c2c" stroke-width="6.5"/>
<text transform="translate(1286.7,2517.0) scale(1.1326,1)" font-size="52.2" font-weight="normal" fill="#1c1c1c" stroke="#1c1c1c" stroke-width="1.32">rev</text>
<rect x="1268" y="2516" width="19" height="78" fill="#6a6a74"/>
<rect x="1233.25" y="2525.25" width="34.5" height="65.5" fill="#dfe4ea" stroke="#2c2c2c" stroke-width="6.5"/>
<rect x="1288.25" y="2525.25" width="61.5" height="65.5" fill="url(#hp)" stroke="#0e0852" stroke-width="6.5"/>
<text transform="translate(1209.7,2643.0) scale(1.0199,1)" font-size="52.2" font-weight="normal" fill="#1c1c1c" stroke="#1c1c1c" stroke-width="1.47">tat</text>
<text transform="translate(1288.2,2646.0) scale(1.0952,1)" font-size="52.2" font-weight="normal" fill="#1c1c1c" stroke="#1c1c1c" stroke-width="1.37">vpu</text>
<rect x="1853.25" y="2465.25" width="71.5" height="54.5" fill="#6b5cfa" stroke="#0e0852" stroke-width="6.5"/>
<text transform="translate(1755.7,2511.0) scale(1.1181,1)" font-size="52.2" font-weight="normal" fill="#1c1c1c" stroke="#1c1c1c" stroke-width="1.34">rev</text>
<rect x="1855.25" y="2539.25" width="24.5" height="52.5" fill="#6b5cfa" stroke="#0e0852" stroke-width="6.5"/>
<text transform="translate(1762.6,2594.0) scale(1.0902,1)" font-size="52.2" font-weight="normal" fill="#1c1c1c" stroke="#1c1c1c" stroke-width="1.38">tat</text>
<rect x="2001.25" y="2386.25" width="162.5" height="122.5" fill="#dfe4ea" stroke="#2c2c2c" stroke-width="6.5"/>
<text transform="translate(2021.8,2370.0) scale(1.1228,1)" font-size="52.2" font-weight="normal" fill="#1c1c1c" stroke="#1c1c1c" stroke-width="1.34">LTR</text>
<rect x="1953.25" y="2529.25" width="145.5" height="55.5" fill="#dfe4ea" stroke="#2c2c2c" stroke-width="6.5"/>
<text transform="translate(1983.0,2644.0) scale(1.0415,1)" font-size="52.2" font-weight="normal" fill="#1c1c1c" stroke="#1c1c1c" stroke-width="1.44">nef</text>
<rect x="176" y="2872" width="14" height="66" fill="#b8d4b8"/>
<rect x="421" y="2936" width="53" height="14" fill="#e0eee0"/>
<rect x="1021" y="2936" width="79" height="14" fill="#e0eee0"/>
<rect x="1168" y="2862" width="84" height="12" fill="#688868"/>
<rect x="1196" y="2936" width="104" height="13" fill="#d0e4d0"/>
<rect x="1856" y="2935" width="49" height="18" fill="#a0c4a0"/>
<rect x="12.25" y="2810.25" width="162.5" height="122.5" fill="#12e012" stroke="#012401" stroke-width="6.5"/>
<text transform="translate(38.7,2790.0) scale(1.1455,1)" font-size="52.2" font-weight="normal" fill="#1c1c1c" stroke="#1c1c1c" stroke-width="1.31">LTR</text>
<rect x="191.25" y="2876.25" width="278.5" height="56.5" fill="#12e012" stroke="#012401" stroke-width="6.5"/>
<text transform="translate(275.1,2858.0) scale(1.1426,1)" font-size="52.2" font-weight="normal" fill="#1c1c1c" stroke="#1c1c1c" stroke-width="1.31">gag</text>
<rect x="426.25" y="2951.25" width="669.5" height="60.5" fill="#12e012" stroke="#012401" stroke-width="6.5"/>
<text transform="translate(702.5,2931.0) scale(1.1819,1)" font-size="52.2" font-weight="normal" fill="#1c1c1c" stroke="#1c1c1c" stroke-width="1.27">pol</text>
<rect x="1023.25" y="2874.75" width="157.5" height="60.0" fill="#12e012" stroke="#012401" stroke-width="6.5"/>
<text transform="translate(1091.2,2858.0) scale(1.1173,1)" font-size="52.2" font-weight="normal" fill="#1c1c1c" stroke="#1c1c1c" stroke-width="1.34">vif</text>
<rect x="1170.25" y="2796.75" width="77.5" height="65.0" fill="url(#hg)" stroke="#012401" stroke-width="6.5"/>
<text transform="translate(1171.2,2774.0) scale(1.1201,1)" font-size="52.2" font-weight="normal" fill="#1c1c1c" stroke="#1c1c1c" stroke-width="1.34">vpx</text>
<rect x="1197.25" y="2874.75" width="62.5" height="60.0" fill="#12e012" stroke="#012401" stroke-width="6.5"/>
<rect x="1265.25" y="2874.75" width="29.5" height="60.0" fill="#4aaa4a" stroke="#1a4a1a" stroke-width="6.5"/>
<text transform="translate(1306.7,2930.0) scale(1.1181,1)" font-size="52.2" font-weight="normal" fill="#1c1c1c" stroke="#1c1c1c" stroke-width="1.34">rev</text>
<rect x="1221.25" y="2950.25" width="77.5" height="61.5" fill="#12e012" stroke="#012401" stroke-width="6.5"/>
<text transform="translate(1132.2,2981.0) scale(1.1233,1)" font-size="52.2" font-weight="normal" fill="#1c1c1c" stroke="#1c1c1c" stroke-width="1.34">vpr</text>
<text transform="translate(1311.7,3012.0) scale(1.0550,1)" font-size="52.2" font-weight="normal" fill="#1c1c1c" stroke="#1c1c1c" stroke-width="1.42">tat</text>
<rect x="1304.25" y="2799.25" width="644.5" height="60.5" fill="#12e012" stroke="#012401" stroke-width="6.5"/>
<text transform="translate(1556.9,2783.0) scale(1.1181,1)" font-size="52.2" font-weight="normal" fill="#1c1c1c" stroke="#1c1c1c" stroke-width="1.34">env</text>
<rect x="1855" y="2861" width="97" height="15" fill="#9cb89c"/>
<rect x="1860.25" y="2877.25" width="73.5" height="56.5" fill="#12e012" stroke="#012401" stroke-width="6.5"/>
<text transform="translate(1761.8,2930.0) scale(1.0890,1)" font-size="52.2" font-weight="normal" fill="#1c1c1c" stroke="#1c1c1c" stroke-width="1.38">rev</text>
<rect x="1862.25" y="2954.25" width="38.5" height="59.5" fill="#12e012" stroke="#012401" stroke-width="6.5"/>
<text transform="translate(1769.7,3012.0) scale(1.0199,1)" font-size="52.2" font-weight="normal" fill="#1c1c1c" stroke="#1c1c1c" stroke-width="1.47">tat</text>
<rect x="1992.25" y="2808.25" width="166.5" height="125.5" fill="#12e012" stroke="#012401" stroke-width="6.5"/>
<text transform="translate(2025.8,2790.0) scale(1.1228,1)" font-size="52.2" font-weight="normal" fill="#1c1c1c" stroke="#1c1c1c" stroke-width="1.34">LTR</text>
<rect x="1933.25" y="2952.25" width="141.5" height="58.5" fill="#12e012" stroke="#012401" stroke-width="6.5"/>
<text transform="translate(1963.9,3062.0) scale(1.0560,1)" font-size="52.2" font-weight="normal" fill="#1c1c1c" stroke="#1c1c1c" stroke-width="1.42">nef</text>
</g></svg></body></html>
